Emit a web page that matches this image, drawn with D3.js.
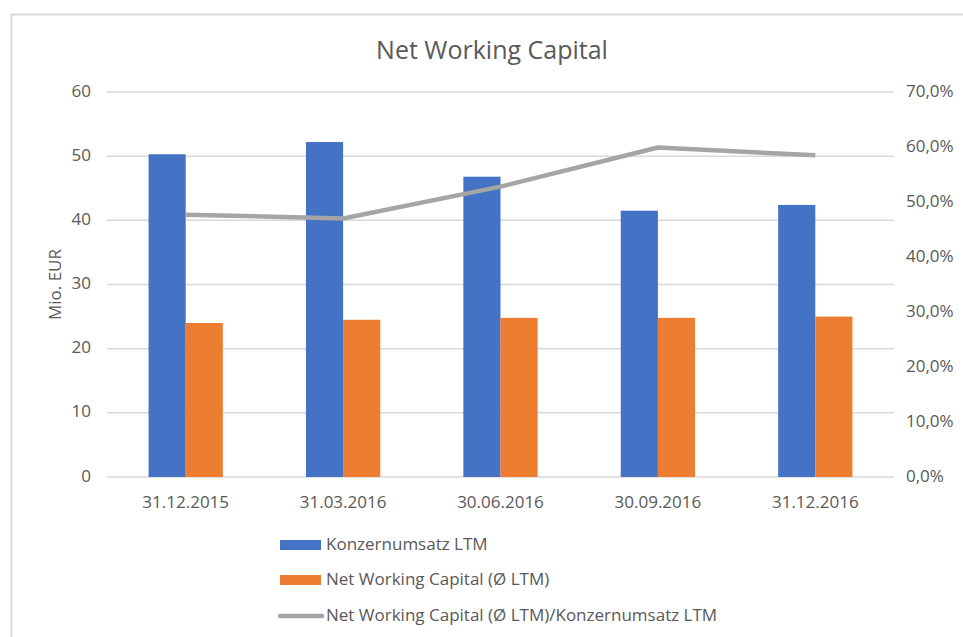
<!DOCTYPE html>
<html>
<head>
<meta charset="utf-8">
<script src="https://cdn.jsdelivr.net/npm/d3@7"></script>
<style>
  body { margin: 0; background: #fff; }
  text { font-family: "Open Sans", "Noto Sans", sans-serif; fill: #595959; }
</style>
</head>
<body>
<svg id="chart" width="963" height="637"></svg>
<script>
// data
const categories = ["31.12.2015", "31.03.2016", "30.06.2016", "30.09.2016", "31.12.2016"];
const revenue = [50.3, 52.2, 46.8, 41.5, 42.4];
const nwc = [24.0, 24.5, 24.8, 24.8, 25.0];
const ratio = [0.477, 0.470, 0.528, 0.599, 0.585];
const leftTicks = [0, 10, 20, 30, 40, 50, 60];
const rightTicks = [0, 0.1, 0.2, 0.3, 0.4, 0.5, 0.6, 0.7];
const seriesNames = [
  "Konzernumsatz LTM",
  "Net Working Capital (\u00D8 LTM)",
  "Net Working Capital (\u00D8 LTM)/Konzernumsatz LTM"
];
const colors = ["#4472C4", "#ED7D31", "#A5A5A5"];

const svg = d3.select("#chart");

// chart frame
svg.append("rect")
    .attr("x", 11.5)
    .attr("y", 14.5)
    .attr("width", 1000)
    .attr("height", 700)
    .attr("fill", "none")
    .attr("stroke", "#D9D9D9")
    .attr("stroke-width", 2);

const plot = { left: 107, right: 894, top: 92, bottom: 477 };

const x = d3.scaleBand()
    .domain(categories)
    .range([plot.left, plot.right]);

const barW = x.bandwidth() * 0.236;

const y = d3.scaleLinear()
    .domain([0, 60])
    .range([plot.bottom, plot.top]);

const y2 = d3.scaleLinear()
    .domain([0, 0.7])
    .range([plot.bottom, plot.top]);

// gridlines
svg.append("g")
  .selectAll("line")
  .data(leftTicks)
  .join("line")
    .attr("x1", plot.left)
    .attr("x2", plot.right)
    .attr("y1", d => y(d))
    .attr("y2", d => y(d))
    .attr("stroke", "#D9D9D9")
    .attr("stroke-width", 1.5);

// left axis labels
svg.append("g")
    .attr("font-size", 17)
    .attr("text-anchor", "end")
    .attr("dominant-baseline", "middle")
  .selectAll("text")
  .data(leftTicks)
  .join("text")
    .attr("x", 91)
    .attr("y", d => y(d))
    .text(d => d);

// right axis labels
const pct = v => d3.format(".1f")(v * 100).replace(".", ",") + "%";
svg.append("g")
    .attr("font-size", 17)
    .attr("dominant-baseline", "middle")
  .selectAll("text")
  .data(rightTicks)
  .join("text")
    .attr("x", 906)
    .attr("y", d => y2(d))
    .text(pct);

// category labels
svg.append("g")
    .attr("font-size", 17)
    .attr("text-anchor", "middle")
  .selectAll("text")
  .data(categories)
  .join("text")
    .attr("x", d => x(d) + x.bandwidth() / 2)
    .attr("y", 508)
    .text(d => d);

// y axis title
svg.append("text")
    .attr("transform", `translate(61, ${(plot.top + plot.bottom) / 2}) rotate(-90)`)
    .attr("text-anchor", "middle")
    .attr("font-size", 17)
    .text("Mio. EUR");

// title
svg.append("text")
    .attr("x", 492)
    .attr("y", 59)
    .attr("text-anchor", "middle")
    .attr("font-size", 25)
    .text("Net Working Capital");

// bars
const cx = d => x(d) + x.bandwidth() / 2;

svg.append("g")
    .attr("fill", colors[0])
  .selectAll("rect")
  .data(categories)
  .join("rect")
    .attr("x", d => cx(d) - barW)
    .attr("y", (d, i) => y(revenue[i]))
    .attr("width", barW)
    .attr("height", (d, i) => y(0) - y(revenue[i]));

svg.append("g")
    .attr("fill", colors[1])
  .selectAll("rect")
  .data(categories)
  .join("rect")
    .attr("x", d => cx(d))
    .attr("y", (d, i) => y(nwc[i]))
    .attr("width", barW)
    .attr("height", (d, i) => y(0) - y(nwc[i]));

// ratio line
const line = d3.line()
    .x((d, i) => cx(categories[i]))
    .y(d => y2(d));

svg.append("path")
    .datum(ratio)
    .attr("d", line)
    .attr("fill", "none")
    .attr("stroke", colors[2])
    .attr("stroke-width", 4.5)
    .attr("stroke-linejoin", "round");

// legend
const legend = svg.append("g")
    .attr("font-size", 17);

const rows = [545, 580, 616];

legend.append("rect")
    .attr("x", 280).attr("y", rows[0] - 5)
    .attr("width", 41).attr("height", 10)
    .attr("fill", colors[0]);
legend.append("rect")
    .attr("x", 280).attr("y", rows[1] - 5)
    .attr("width", 41).attr("height", 10)
    .attr("fill", colors[1]);
legend.append("line")
    .attr("x1", 280).attr("x2", 322)
    .attr("y1", rows[2]).attr("y2", rows[2])
    .attr("stroke", colors[2])
    .attr("stroke-width", 4.5)
    .attr("stroke-linecap", "round");

legend.selectAll("text")
  .data(seriesNames)
  .join("text")
    .attr("x", 326)
    .attr("y", (d, i) => rows[i])
    .attr("dominant-baseline", "middle")
    .text(d => d);
</script>
</body>
</html>
